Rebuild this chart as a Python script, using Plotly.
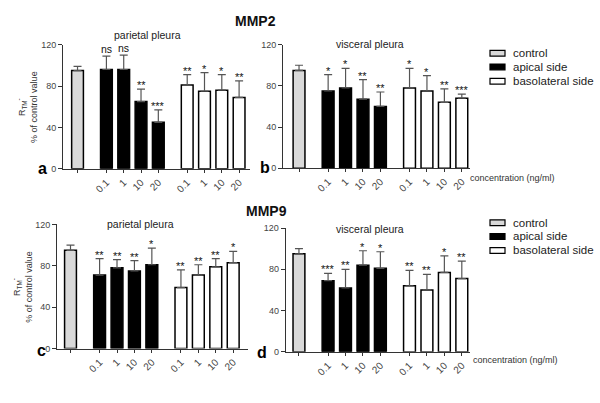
import plotly.graph_objects as go

W, H = 600, 403
FONT = "Liberation Sans, Arial, sans-serif"

# ---------------- data ----------------
concentrations = ["0.1", "1", "10", "20"]
group_names = ["control", "apical side", "basolateral side"]

# panel a: MMP2, parietal pleura
a_control, a_control_err = 95, 4
a_apical = [96, 96, 65, 45]
a_apical_err = [13, 14, 12, 12]
a_baso = [81, 75, 76, 69]
a_baso_err = [10, 18, 15, 16]
a_apical_sig = ["ns", "ns", "**", "***"]
a_baso_sig = ["**", "*", "*", "**"]

# panel b: MMP2, visceral pleura
b_control, b_control_err = 95, 5
b_apical = [75, 78, 67, 60]
b_apical_err = [16, 19, 19, 14]
b_baso = [78, 75, 64, 68]
b_baso_err = [19, 15, 13, 4]
b_apical_sig = ["*", "*", "**", "**"]
b_baso_sig = ["*", "*", "**", "***"]

# panel c: MMP9, parietal pleura
c_control, c_control_err = 95, 5
c_apical = [71, 78, 75, 81]
c_apical_err = [16, 8, 10, 16]
c_baso = [59, 71, 79, 83]
c_baso_err = [17, 10, 8, 11]
c_apical_sig = ["**", "**", "**", "*"]
c_baso_sig = ["**", "**", "**", "*"]

# panel d: MMP9, visceral pleura
d_control, d_control_err = 95, 5
d_apical = [69, 62, 84, 81]
d_apical_err = [7, 18, 14, 16]
d_baso = [64, 60, 77, 71]
d_baso_err = [15, 15, 16, 17]
d_apical_sig = ["***", "**", "*", "*"]
d_baso_sig = ["**", "**", "*", "**"]

y_ticks = [0, 40, 80, 120]

# ---------------- layout helpers ----------------
def fx(p):
    return p / W


def fy(p):
    return 1 - p / H


GAP = 1.67
ctrl_pos = [0]
apical_pos = [GAP + i for i in range(4)]
baso_pos = [2 * GAP + 3 + i for i in range(4)]

panels = [
    dict(ctrl=a_control, ctrl_err=a_control_err, ap=a_apical, ap_err=a_apical_err,
         bl=a_baso, bl_err=a_baso_err, ap_sig=a_apical_sig, bl_sig=a_baso_sig,
         xd=(63, 250), yd=(168, 40.7), xr=(-0.84, 9.97)),
    dict(ctrl=b_control, ctrl_err=b_control_err, ap=b_apical, ap_err=b_apical_err,
         bl=b_baso, bl_err=b_baso_err, ap_sig=b_apical_sig, bl_sig=b_baso_sig,
         xd=(283, 470), yd=(167.3, 40.7), xr=(-0.92, 9.81)),
    dict(ctrl=c_control, ctrl_err=c_control_err, ap=c_apical, ap_err=c_apical_err,
         bl=c_baso, bl_err=c_baso_err, ap_sig=c_apical_sig, bl_sig=c_baso_sig,
         xd=(57, 248), yd=(352.3, 225), xr=(-0.775, 10.19)),
    dict(ctrl=d_control, ctrl_err=d_control_err, ap=d_apical, ap_err=d_apical_err,
         bl=d_baso, bl_err=d_baso_err, ap_sig=d_apical_sig, bl_sig=d_baso_sig,
         xd=(285.7, 470), yd=(355.7, 228.7), xr=(-0.76, 9.81)),
]

fills = ["#d9d9d9", "#000000", "#ffffff"]
ERR_COLOR = "#555555"
AXIS_COLOR = "#333333"
YTICK_FONT = dict(family=FONT, size=9, color="#444444")
XTICK_FONT = dict(family=FONT, size=10, color="#444444")
BAR_W = 0.68

fig = go.Figure()
annotations = []
layout_axes = {}

for i, p in enumerate(panels):
    n = "" if i == 0 else str(i + 1)
    xa, ya = "x" + n, "y" + n
    series = [
        (ctrl_pos, [p["ctrl"]], [p["ctrl_err"]], fills[0]),
        (apical_pos, p["ap"], p["ap_err"], fills[1]),
        (baso_pos, p["bl"], p["bl_err"], fills[2]),
    ]
    for gname, (xs, ys, es, col) in zip(group_names, series):
        fig.add_trace(go.Bar(
            x=xs, y=ys, width=BAR_W, name=gname, showlegend=False,
            marker=dict(color=col, line=dict(color="#000000", width=1.5)),
            error_y=dict(type="data", array=es, arrayminus=[0] * len(es),
                         symmetric=False, color=ERR_COLOR, thickness=1.2, width=4),
            xaxis=xa, yaxis=ya,
        ))
    for xs, ys, es, sig in [(apical_pos, p["ap"], p["ap_err"], p["ap_sig"]),
                            (baso_pos, p["bl"], p["bl_err"], p["bl_sig"])]:
        for xv, yv, ev, s in zip(xs, ys, es, sig):
            star = s != "ns"
            annotations.append(dict(
                x=xv, y=yv + ev, xref=xa, yref=ya, text=s, showarrow=False,
                xanchor="center", yanchor="bottom", yshift=-4 if star else -1,
                font=dict(family=FONT, size=11 if star else 10.5, color="#111111"),
            ))
    layout_axes["xaxis" + n] = dict(
        domain=[fx(p["xd"][0]), fx(p["xd"][1])], range=list(p["xr"]),
        anchor=ya, showline=True, linecolor=AXIS_COLOR, linewidth=1,
        showgrid=False, zeroline=False, ticks="outside", ticklen=3,
        tickcolor=AXIS_COLOR, tickvals=ctrl_pos + apical_pos + baso_pos,
        ticktext=[""] + concentrations + concentrations, tickangle=-45,
        tickfont=XTICK_FONT, fixedrange=True,
    )
    layout_axes["yaxis" + n] = dict(
        domain=[fy(p["yd"][0]), fy(p["yd"][1])], range=[0, 120],
        anchor=xa, showline=True, linecolor=AXIS_COLOR, linewidth=1,
        showgrid=False, zeroline=False, ticks="outside", ticklen=4,
        tickcolor=AXIS_COLOR, tickvals=y_ticks, tickfont=YTICK_FONT,
        fixedrange=True,
    )


def text_ann(txt, x, y, size, bold=False, xanchor="center", color="#222222", angle=0):
    annotations.append(dict(
        x=fx(x), y=fy(y), xref="paper", yref="paper", text=("<b>%s</b>" % txt) if bold else txt,
        showarrow=False, xanchor=xanchor, yanchor="middle", textangle=angle,
        font=dict(family=FONT, size=size, color=color),
    ))


text_ann("MMP2", 255, 16, 14, bold=True, color="#111111")
text_ann("MMP9", 266.7, 211, 14, bold=True, color="#111111")
text_ann("parietal pleura", 147.5, 30.5, 10.5)
text_ann("visceral pleura", 369.7, 40, 10.5)
text_ann("parietal pleura", 140.8, 225, 10.5)
text_ann("visceral pleura", 370, 229.5, 10.5)
text_ann("a", 42.5, 168, 16, bold=True, color="#000000")
text_ann("b", 265, 167, 16, bold=True, color="#000000")
text_ann("c", 41.7, 354, 16, bold=True, color="#000000")
text_ann("d", 262, 356, 16, bold=True, color="#000000")
text_ann("concentration (ng/ml)", 468, 177, 9, xanchor="left", color="#333333")
text_ann("concentration (ng/ml)", 470.7, 364.3, 9, xanchor="left", color="#333333")
ytitle = "R<sub>TM</sub><sup>-</sup><br>% of control value"
text_ann(ytitle, 27, 104.5, 9, angle=-90, color="#333333")
text_ann(ytitle, 22, 289, 9, angle=-90, color="#333333")

shapes = []
for rows in ([49.5, 63.5, 78.2], [223.3, 237.3, 251.7]):
    for gname, col, yc in zip(group_names, fills, rows):
        shapes.append(dict(type="rect", xref="paper", yref="paper",
                           x0=fx(490), x1=fx(505), y0=fy(yc + 3), y1=fy(yc - 3),
                           fillcolor=col, line=dict(color="#000000", width=1.2)))
        text_ann(gname, 511, yc, 11.5, xanchor="left", color="#222222")

fig.update_layout(
    width=W, height=H, autosize=False,
    margin=dict(l=0, r=0, t=0, b=0),
    paper_bgcolor="white", plot_bgcolor="white",
    showlegend=False, barmode="overlay",
    annotations=annotations, shapes=shapes,
    font=dict(family=FONT),
    **layout_axes,
)

fig.write_html(
    "out.html",
    config={"responsive": False, "displayModeBar": False},
    post_script="document.body.style.margin='0';document.body.style.padding='0';"
                "document.body.style.overflow='hidden';",
)
